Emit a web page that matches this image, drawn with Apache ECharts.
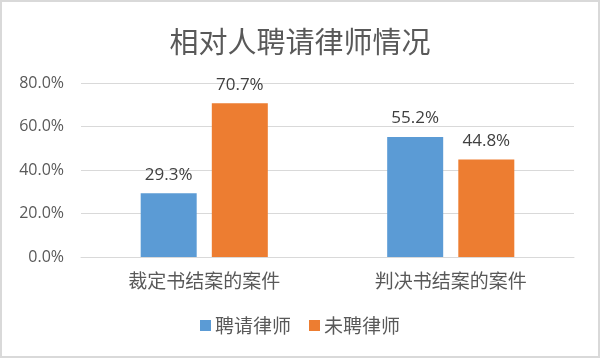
<!DOCTYPE html>
<html><head><meta charset="utf-8">
<script src="https://cdn.jsdelivr.net/npm/echarts@6/dist/echarts.min.js"></script>
<style>html,body{margin:0;padding:0;background:#fff}#c{width:600px;height:358px;box-sizing:border-box;border:2px solid #d9d9d9}</style>
</head><body><div id="c"></div>
<script>
const categories = ['裁定书结案的案件', '判决书结案的案件'];
const seriesNames = ['聘请律师', '未聘律师'];
const hired = [29.3, 55.2];
const notHired = [70.7, 44.8];
const yTicks = [0, 20, 40, 60, 80];
const colors = ['#5B9BD5', '#ED7D31'];
const chart = echarts.init(document.getElementById('c'));
const font = '"Noto Sans CJK SC", sans-serif';
const numFont = '"Open Sans", sans-serif';
function mk(name, data, color) {
  return {
    name, type: 'bar', data, barWidth: 56, barGap: '27%',
    itemStyle: { color },
    label: { show: true, position: 'top', distance: 10, formatter: p => p.value.toFixed(1) + '%', color: '#404040', fontSize: 17, fontFamily: numFont }
  };
}
chart.setOption({
  animation: false,
  textStyle: { fontFamily: font },
  title: { text: '相对人聘请律师情况', left: 'center', top: 20, textStyle: { fontSize: 29, fontWeight: 'normal', color: '#595959', fontFamily: font } },
  grid: { left: 79, right: 24, top: 81, bottom: 99 },
  legend: { bottom: 16, left: 'center', itemWidth: 11, itemHeight: 11, itemGap: 18, icon: 'rect', textStyle: { fontSize: 19, color: '#595959', fontFamily: font, padding: [0, 0, 0, -1] }, data: seriesNames },
  xAxis: { type: 'category', data: categories, axisTick: { show: false }, axisLine: { lineStyle: { color: '#d9d9d9', width: 1 } }, axisLabel: { fontSize: 19, color: '#595959', margin: 14, fontFamily: font } },
  yAxis: { type: 'value', min: yTicks[0], max: yTicks[yTicks.length - 1], interval: 20, axisLine: { show: false }, axisTick: { show: false }, splitLine: { lineStyle: { color: '#d9d9d9' } }, axisLabel: { formatter: v => v.toFixed(1) + '%', fontSize: 16, color: '#595959', margin: 17, fontFamily: numFont } },
  series: [mk(seriesNames[0], hired, colors[0]), mk(seriesNames[1], notHired, colors[1])]
});
</script></body></html>
